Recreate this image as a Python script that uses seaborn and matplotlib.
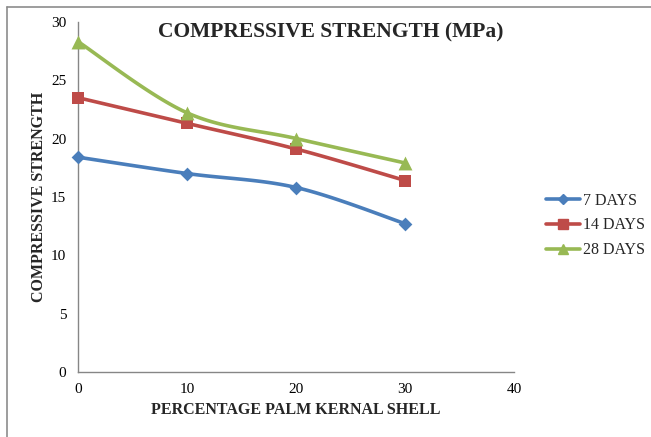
import numpy as np
import pandas as pd
import matplotlib
matplotlib.use("Agg")
import matplotlib.pyplot as plt
from matplotlib.lines import Line2D
import seaborn as sns

# Percentage of palm kernel shell and compressive strength (MPa) by curing age
pks_percent = [0, 10, 20, 30]
strength_7d = [18.4, 17.0, 15.8, 12.7]
strength_14d = [23.5, 21.3, 19.1, 16.4]
strength_28d = [28.3, 22.2, 20.0, 17.9]
series_names = ["7 DAYS", "14 DAYS", "28 DAYS"]
x_ticks = [0, 10, 20, 30, 40]
y_ticks = [0, 5, 10, 15, 20, 25, 30]

colors = ["#4a7ebb", "#be4b48", "#98b954"]
markers = ["D", "s", "^"]
marker_sizes = [7, 9, 10]


def smooth_curve(x, y, steps=40, tension=1 / 6):
    """Cardinal-spline Bezier smoothing through every point."""
    x = np.asarray(x, float)
    y = np.asarray(y, float)
    pts = np.column_stack([x, y])
    n = len(pts)
    out = []
    for i in range(n - 1):
        p0 = pts[max(i - 1, 0)]
        p1 = pts[i]
        p2 = pts[i + 1]
        p3 = pts[min(i + 2, n - 1)]
        c1 = p1 + (p2 - p0) * tension
        c2 = p2 - (p3 - p1) * tension
        t = np.linspace(0, 1, steps)[:, None]
        seg = ((1 - t) ** 3) * p1 + 3 * ((1 - t) ** 2) * t * c1 + 3 * (1 - t) * t ** 2 * c2 + t ** 3 * p2
        out.append(seg if i == 0 else seg[1:])
    seg = np.vstack(out)
    return seg[:, 0], seg[:, 1]


sns.set_style("white")
plt.rcParams["font.family"] = ["Liberation Serif", "DejaVu Serif"]

fig = plt.figure(figsize=(6.51, 4.37), dpi=100)
ax = fig.add_axes([0.12, 0.149, 0.67, 0.801])

all_series = [strength_7d, strength_14d, strength_28d]
for name, vals, c, m, ms in zip(series_names, all_series, colors, markers, marker_sizes):
    sx, sy = smooth_curve(pks_percent, vals)
    curve = pd.DataFrame({"x": sx, "y": sy})
    sns.lineplot(data=curve, x="x", y="y", ax=ax, color=c, linewidth=2.6,
                 sort=False, estimator=None, legend=False)
    pts = pd.DataFrame({"x": pks_percent, "y": vals})
    sns.scatterplot(data=pts, x="x", y="y", ax=ax, color=c, marker=m,
                    s=ms ** 2, edgecolor=c, linewidth=0, legend=False, zorder=5,
                    clip_on=False)

ax.set_xlim(0, 40)
ax.set_ylim(0, 30)
ax.set_xticks(x_ticks)
ax.set_yticks(y_ticks)
ax.tick_params(axis="both", which="major", labelsize=11, colors="#868686",
               labelcolor="black", length=5, width=1, direction="out")
ax.tick_params(axis="x", pad=3)
for side in ["top", "right"]:
    ax.spines[side].set_visible(False)
for side in ["left", "bottom"]:
    ax.spines[side].set_color("#868686")
    ax.spines[side].set_linewidth(1)

ax.set_xlabel("PERCENTAGE PALM KERNAL SHELL", fontsize=11.5, fontweight="bold", labelpad=4)
ax.set_ylabel("COMPRESSIVE STRENGTH", fontsize=11.5, fontweight="bold", labelpad=3)
fig.text(331 / 651, 1 - 32 / 437, "COMPRESSIVE STRENGTH (MPa)", fontsize=15.5,
         fontweight="bold", ha="center", va="center")

handles = [Line2D([0], [0], color=c, marker=m, markersize=ms * 0.75, linewidth=2.6,
                  markeredgecolor=c) for c, m, ms in zip(colors, markers, marker_sizes)]
leg = fig.legend(handles, series_names, loc="upper left", bbox_to_anchor=(0.817, 0.592),
                 frameon=False, fontsize=11.5, handlelength=2.1, handletextpad=0.2,
                 labelspacing=0.55)

# Outer chart frame (top and left edges)
fig.add_artist(Line2D([7 / 651, 1], [1 - 7 / 437, 1 - 7 / 437], color="#8c8c8c", linewidth=1.2,
                      transform=fig.transFigure))
fig.add_artist(Line2D([7 / 651, 7 / 651], [0, 1 - 7 / 437], color="#8c8c8c", linewidth=1.2,
                      transform=fig.transFigure))

fig.savefig("out.png", dpi=100)
